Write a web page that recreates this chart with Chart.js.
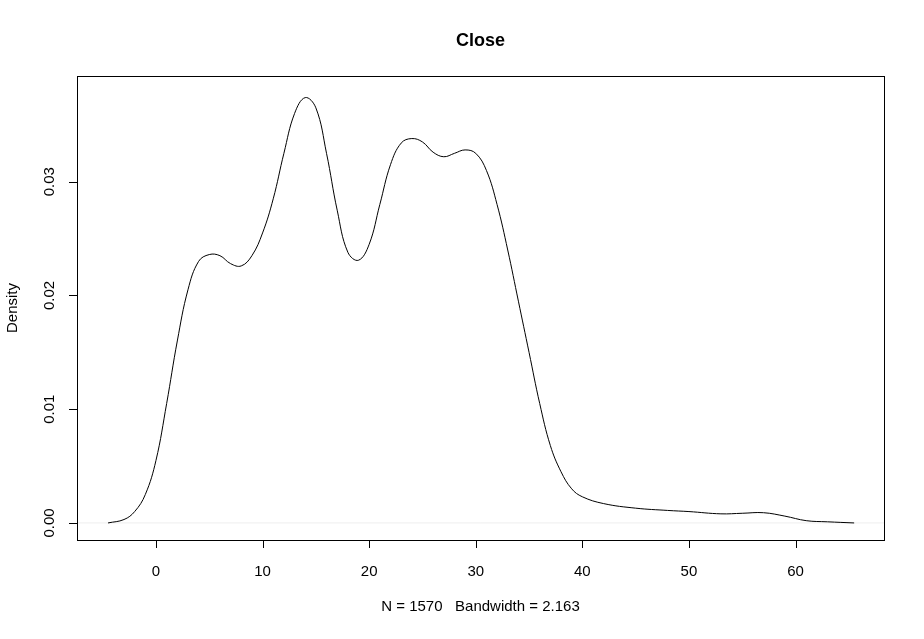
<!DOCTYPE html>
<html>
<head>
<meta charset="utf-8">
<script src="https://cdn.jsdelivr.net/npm/chart.js@4"></script>
<style>
  html, body { margin: 0; padding: 0; background: #fff; }
  #wrap { width: 924px; height: 639px; }
</style>
</head>
<body>
<div id="wrap"><canvas id="chart"></canvas></div>
<script>
// density estimate
const xs = [-4.5, -3, -2, -1, 0, 1, 2, 3, 4, 5, 6, 7, 8, 9, 10, 11, 12, 13, 14, 15, 16, 17, 18, 19, 20,
  21, 22, 23, 24, 25, 26, 27, 28, 29, 30, 31, 32, 33, 34, 35, 36, 37, 38, 39, 40, 42, 45, 48, 50,
  53, 55, 57, 59, 61, 63, 65.5];
const density = [0.0000, 0.0003, 0.0010, 0.0025, 0.0055, 0.0105, 0.0160, 0.0205, 0.0230, 0.0236,
  0.0235, 0.0228, 0.0226, 0.0235, 0.0255, 0.0285, 0.0325, 0.0360, 0.0374, 0.0365, 0.0325, 0.0275,
  0.0238, 0.0231, 0.0245, 0.0280, 0.0315, 0.0334, 0.0338, 0.0335, 0.0326, 0.0322, 0.0325, 0.0328,
  0.0325, 0.0310, 0.0280, 0.0240, 0.0195, 0.0150, 0.0105, 0.0068, 0.0045, 0.0030, 0.0023, 0.0017,
  0.0013, 0.0011, 0.0010, 0.0008, 0.00085, 0.0009, 0.0006, 0.0002, 0.0001, 0.0000];
const xTicks = [0, 10, 20, 30, 40, 50, 60];
const yTicks = [0.00, 0.01, 0.02, 0.03];
const titleText = "Close";
const xLabel = "N = 1570   Bandwidth = 2.163";
const yLabel = "Density";

const FONT = '"Liberation Sans", Arial, sans-serif';

// R-style box, axes and labels
const rAxes = {
  id: 'rAxes',
  beforeDatasetsDraw(chart) {
    const { ctx, chartArea: a, scales: { y } } = chart;
    ctx.save();
    ctx.strokeStyle = '#eeeeee';
    ctx.lineWidth = 1;
    ctx.beginPath();
    ctx.moveTo(a.left, y.getPixelForValue(0));
    ctx.lineTo(a.right, y.getPixelForValue(0));
    ctx.stroke();
    ctx.restore();
  },
  afterDraw(chart) {
    const { ctx, chartArea: a, scales: { x, y } } = chart;
    ctx.save();
    ctx.strokeStyle = '#000';
    ctx.fillStyle = '#000';
    ctx.lineWidth = 1;
    ctx.strokeRect(a.left + 0.5, a.top + 0.5, a.right - a.left, a.bottom - a.top);

    ctx.font = '15px ' + FONT;
    // x axis
    ctx.beginPath();
    ctx.moveTo(x.getPixelForValue(xTicks[0]), a.bottom + 0.5);
    ctx.lineTo(x.getPixelForValue(xTicks[xTicks.length - 1]), a.bottom + 0.5);
    xTicks.forEach(t => {
      const px = Math.round(x.getPixelForValue(t)) + 0.5;
      ctx.moveTo(px, a.bottom);
      ctx.lineTo(px, a.bottom + 8);
    });
    ctx.stroke();
    ctx.textAlign = 'center';
    ctx.textBaseline = 'middle';
    xTicks.forEach(t => ctx.fillText(String(t), x.getPixelForValue(t), a.bottom + 32));

    // y axis
    ctx.beginPath();
    ctx.moveTo(a.left + 0.5, y.getPixelForValue(yTicks[0]));
    ctx.lineTo(a.left + 0.5, y.getPixelForValue(yTicks[yTicks.length - 1]));
    yTicks.forEach(t => {
      const py = Math.round(y.getPixelForValue(t)) + 0.5;
      ctx.moveTo(a.left, py);
      ctx.lineTo(a.left - 8, py);
    });
    ctx.stroke();
    yTicks.forEach(t => {
      ctx.save();
      ctx.translate(a.left - 27, y.getPixelForValue(t));
      ctx.rotate(-Math.PI / 2);
      ctx.fillText(t.toFixed(2), 0, 0);
      ctx.restore();
    });

    // titles
    ctx.fillText(xLabel, (a.left + a.right) / 2, 607);
    ctx.save();
    ctx.translate(13, (a.top + a.bottom) / 2);
    ctx.rotate(-Math.PI / 2);
    ctx.fillText(yLabel, 0, 0);
    ctx.restore();
    ctx.font = 'bold 18px ' + FONT;
    ctx.fillText(titleText, (a.left + a.right) / 2, 41);
    ctx.restore();
  }
};

new Chart(document.getElementById('chart'), {
  type: 'line',
  data: {
    datasets: [{
      data: xs.map((v, i) => ({ x: v, y: density[i] })),
      borderColor: '#000',
      borderWidth: 1,
      pointRadius: 0,
      tension: 0.4,
      fill: false
    }]
  },
  options: {
    responsive: true,
    maintainAspectRatio: false,
    animation: false,
    layout: { padding: { left: 77, right: 40, top: 76, bottom: 99 } },
    plugins: { legend: { display: false }, tooltip: { enabled: false } },
    scales: {
      x: { type: 'linear', min: -7.41, max: 68.3, display: false },
      y: { type: 'linear', min: -0.0015, max: 0.0393, display: false }
    }
  },
  plugins: [rAxes]
});
</script>
</body>
</html>
